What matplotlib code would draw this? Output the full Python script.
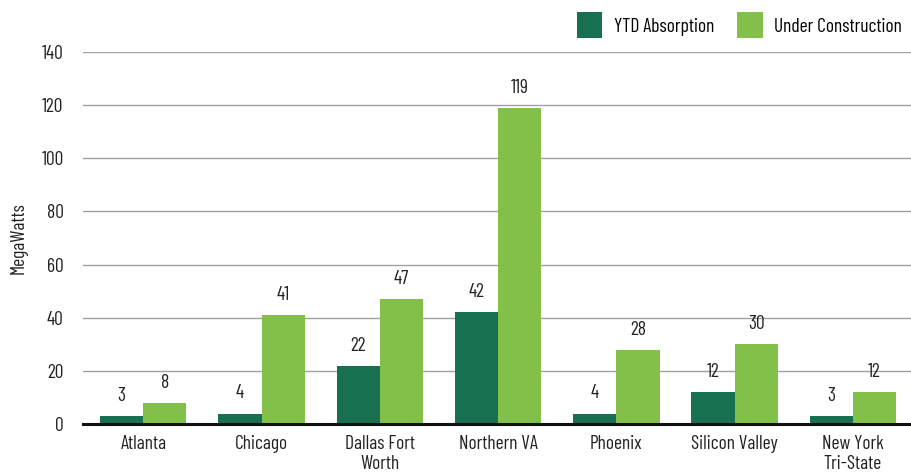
import numpy as np
from matplotlib import pyplot as plt

# data
markets = ['Atlanta', 'Chicago', 'Dallas Fort\nWorth', 'Northern VA',
           'Phoenix', 'Silicon Valley', 'New York\nTri-State']
absorption = [3, 4, 22, 42, 4, 12, 3]
construction = [8, 41, 47, 119, 28, 30, 12]
yticks = [0, 20, 40, 60, 80, 100, 120, 140]

dark = '#177150'
light = '#82c04a'

plt.rcParams['font.family'] = ['Barlow Condensed', 'DejaVu Sans']

fig = plt.figure(figsize=(9.12, 4.75), dpi=100)
ax = fig.add_axes([0.091, 0.107, 0.909, 0.784])

x = np.arange(len(markets))
w = 0.365
b1 = ax.bar(x - w / 2, absorption, w, color=dark, label='YTD Absorption', zorder=3)
b2 = ax.bar(x + w / 2, construction, w, color=light, label='Under Construction', zorder=3)

# value labels
for bars, vals in [(b1, absorption), (b2, construction)]:
    for r, v in zip(bars, vals):
        ax.annotate(str(v), (r.get_x() + r.get_width() / 2, v),
                    xytext=(0, 8), textcoords='offset points',
                    ha='center', va='bottom', fontsize=14, color='#222222')

ax.set_xlim(-0.51, 6.5)
ax.set_ylim(0, 140)
ax.set_yticks(yticks)
ax.set_xticks(x)
ax.set_xticklabels(markets, fontsize=14, color='#222222', linespacing=1.1)
ax.tick_params(axis='y', labelsize=14, labelcolor='#222222', length=0, pad=14)
ax.tick_params(axis='x', length=0, pad=8)
ax.grid(axis='y', color='#a0a0a0', linewidth=1.0, zorder=0)
for s in ['top', 'right', 'left']:
    ax.spines[s].set_visible(False)
ax.spines['bottom'].set_linewidth(2.2)
ax.spines['bottom'].set_color('#111111')
ax.spines['bottom'].set_zorder(4)

ax.set_ylabel('MegaWatts', fontsize=14, color='#222222', labelpad=10)

ax.legend(loc='lower right', bbox_to_anchor=(1.0, 1.01), ncol=2, frameon=False,
          fontsize=14, handlelength=1.3, handleheight=1.7, columnspacing=1.2,
          handletextpad=0.6, borderaxespad=0.1)

fig.savefig('out.png', dpi=100)
